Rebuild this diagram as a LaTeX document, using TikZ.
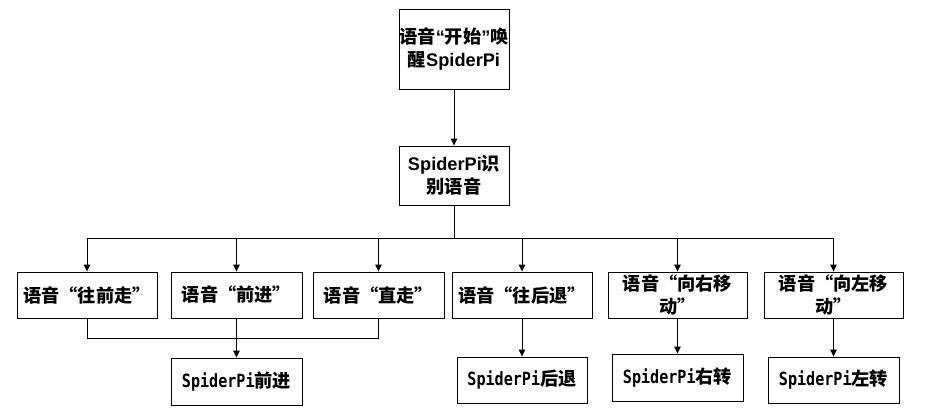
\documentclass[tikz,border=0pt]{standalone}
\usepackage{fontspec}
\setmainfont{Noto Sans CJK SC}
\newfontfamily\cjk{Noto Sans CJK SC}
\newfontfamily\lat{Liberation Sans}
\newfontfamily\mono{DejaVu Sans Mono}[FakeStretch=0.83]
\usetikzlibrary{arrows.meta}
\tikzset{
  box/.style={draw, line width=0.9pt, inner sep=0pt, align=center,
    font=\cjk\bfseries\fontsize{18.2pt}{23pt}\selectfont},
  conn/.style={line width=0.9pt},
  arr/.style={line width=0.9pt, -{Triangle[length=7pt,width=6.5pt]}}
}
\begin{document}
\begin{tikzpicture}[x=1pt,y=-1pt]
\useasboundingbox (0,0) rectangle (933,415);
\node[box, minimum width=110, minimum height=80] (start) at (454,49)
  {语音{\lat\bfseries “}开始{\lat\bfseries ”}唤\\醒{\lat\bfseries SpiderPi}};
\node[box, minimum width=110, minimum height=59] (recog) at (454,175.5)
  {{\lat\bfseries SpiderPi}识\\别语音};
\node[box, minimum width=140, minimum height=46] (v1) at (87,295) {语音“往前走”};
\node[box, minimum width=131, minimum height=46] (v2) at (236.5,295) {语音“前进”};
\node[box, minimum width=131, minimum height=46] (v3) at (378.5,295) {语音“直走”};
\node[box, minimum width=140, minimum height=46] (v4) at (522,295) {语音“往后退”};
\node[box, minimum width=139, minimum height=46] (v5) at (677.5,295) {语音“向右移\\动”};
\node[box, minimum width=139, minimum height=46] (v6) at (833.5,295) {语音“向左移\\动”};
\node[box, minimum width=131, minimum height=47] (a1) at (236.5,381.5) {{\mono\bfseries SpiderPi}前进};
\node[box, minimum width=130, minimum height=46] (a2) at (522,380) {{\mono\bfseries SpiderPi}后退};
\node[box, minimum width=131, minimum height=47] (a3) at (677.5,377.5) {{\mono\bfseries SpiderPi}右转};
\node[box, minimum width=131, minimum height=46] (a4) at (833.5,380) {{\mono\bfseries SpiderPi}左转};
\coordinate (hl) at (87,238);
\coordinate (hr) at (833.5,238);
\coordinate (hc) at (454,238);
\coordinate (mc) at (236.5,338);
\draw[arr] (start) -- (recog);
\draw[conn] (recog.south) -- (hc);
\draw[conn] (v1.north |- hl) -- (v6.north |- hr);
\foreach \n in {v1,v2,v3,v4,v5,v6} \draw[arr] (\n.north |- hl) -- (\n.north);
\draw[conn] (v1.south) -- (v1.south |- mc) -- (v3.south |- mc) -- (v3.south);
\draw[conn] (v2.south) -- (mc);
\draw[arr] (mc) -- (a1.north);
\draw[arr] (v4.south) -- (a2.north);
\draw[arr] (v5.south) -- (a3.north);
\draw[arr] (v6.south) -- (a4.north);
\end{tikzpicture}
\end{document}
